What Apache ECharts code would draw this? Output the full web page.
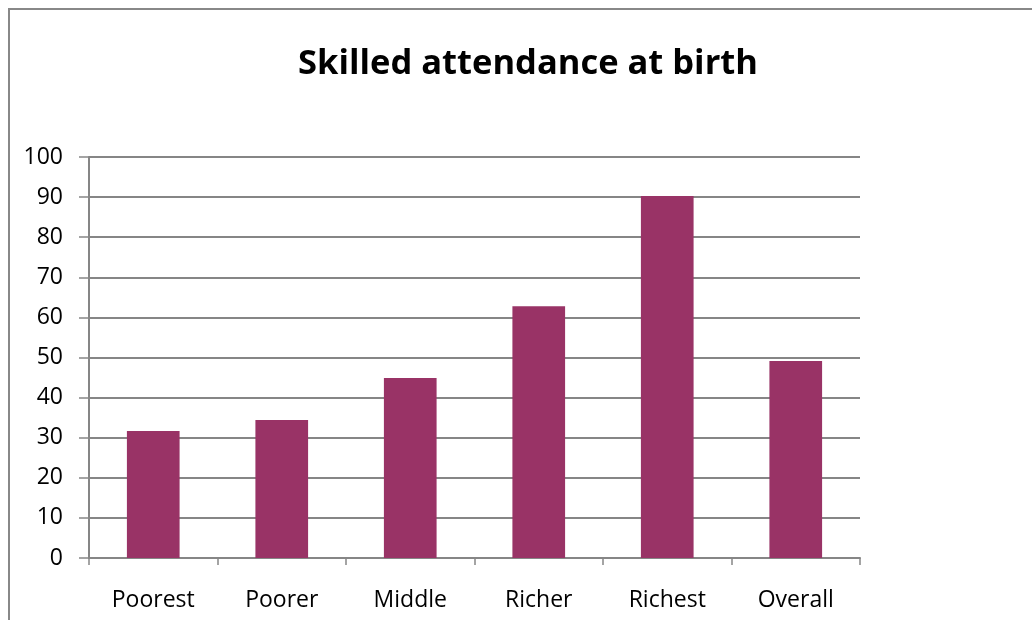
<!DOCTYPE html>
<html>
<head>
<meta charset="utf-8">
<script src="https://cdn.jsdelivr.net/npm/echarts@6/dist/echarts.min.js"></script>
<style>html,body{margin:0;padding:0;background:#fff}#c{width:1032px;height:620px}</style>
</head>
<body>
<div id="c"></div>
<script>
const categories = ["Poorest", "Poorer", "Middle", "Richer", "Richest", "Overall"];
const values = [31.7, 34.4, 44.9, 62.8, 90.3, 49.1];
const yTicks = [0, 10, 20, 30, 40, 50, 60, 70, 80, 90, 100];
const titleText = "Skilled attendance at birth";

const chart = echarts.init(document.getElementById('c'), null, {renderer: 'canvas'});
chart.setOption({
  animation: false,
  backgroundColor: '#fff',
  title: {
    text: titleText,
    left: 523, top: 42, textAlign: 'center',
    textStyle: {fontFamily: 'Open Sans', fontWeight: 'bold', fontSize: 34.5, color: '#000'}
  },
  graphic: [{
    type: 'rect', shape: {x: 9, y: 9, width: 1200, height: 800},
    style: {fill: 'none', stroke: '#888', lineWidth: 2}, silent: true
  }],
  grid: {left: 89, right: 172, top: 157, bottom: 62, containLabel: false},
  xAxis: {
    type: 'category', data: categories, boundaryGap: true,
    axisLine: {show: true, lineStyle: {color: '#868686', width: 2}},
    axisTick: {show: true, interval: 0, length: 7, inside: false, lineStyle: {color: '#868686', width: 1.5}},
    axisLabel: {interval: 0, margin: 31, fontFamily: 'Open Sans', fontSize: 23, color: '#000'}
  },
  yAxis: {
    type: 'value', min: yTicks[0], max: yTicks[yTicks.length - 1], interval: 10,
    axisLine: {show: true, lineStyle: {color: '#868686', width: 2}},
    axisTick: {show: true, length: 10, inside: false, lineStyle: {color: '#868686', width: 1.5}},
    splitLine: {show: true, lineStyle: {color: '#868686', width: 2}},
    axisLabel: {margin: 26, fontFamily: 'Open Sans', fontSize: 23, color: '#000'}
  },
  series: [{
    type: 'bar', data: values, barWidth: '41%',
    itemStyle: {color: '#993366'}
  }]
});
</script>
</body>
</html>
